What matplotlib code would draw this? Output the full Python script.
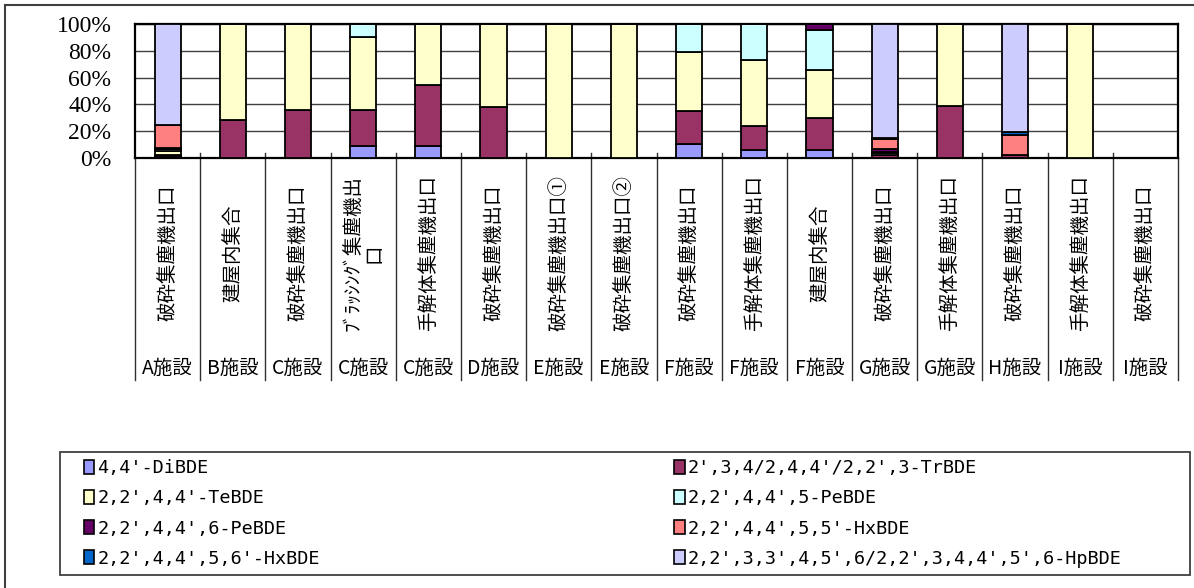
import numpy as np
import matplotlib
matplotlib.use("Agg")
import matplotlib.pyplot as plt
from matplotlib.patches import Rectangle, Patch
from matplotlib.lines import Line2D

W, H = 1194, 588

# --- data (percent composition) ---
sites = ["A施設", "B施設", "C施設", "C施設", "C施設", "D施設", "E施設", "E施設",
         "F施設", "F施設", "F施設", "G施設", "G施設", "H施設", "I施設", "I施設"]
points = ["破砕集塵機出口", "建屋内集合", "破砕集塵機出口", "ﾌﾞﾗｯｼﾝｸﾞ集塵機出\n口",
          "手解体集塵機出口", "破砕集塵機出口", "破砕集塵機出口①", "破砕集塵機出口②",
          "破砕集塵機出口", "手解体集塵機出口", "建屋内集合", "破砕集塵機出口",
          "手解体集塵機出口", "破砕集塵機出口", "手解体集塵機出口", "破砕集塵機出口"]

labels = ["4,4'-DiBDE", "2',3,4/2,4,4'/2,2',3-TrBDE", "2,2',4,4'-TeBDE",
          "2,2',4,4',5-PeBDE", "2,2',4,4',6-PeBDE", "2,2',4,4',5,5'-HxBDE",
          "2,2',4,4',5,6'-HxBDE", "2,2',3,3',4,5',6/2,2',3,4,4',5',6-HpBDE"]
colors = ["#9999FF", "#993366", "#FFFFCC", "#CCFFFF",
          "#660066", "#FF8080", "#0066CC", "#CCCCFF"]

di_bde = [0.5, 0, 0, 8.7, 8.7, 0, 0, 0, 10.7, 5.7, 6.2, 0, 0, 0, 0, 0]
tr_bde = [2, 28.6, 35.5, 27.3, 45.8, 37.8, 0, 0, 24.6, 17.9, 23.4, 2, 38.5, 2, 0, 0]
te_bde = [3, 71.4, 64.5, 54, 45.5, 62.2, 100, 100, 44, 49.8, 36.4, 2, 61.5, 0, 100, 0]
pe_bde99 = [1, 0, 0, 10, 0, 0, 0, 0, 20.7, 26.6, 29.7, 0.5, 0, 0, 0, 0]
pe_bde100 = [1, 0, 0, 0, 0, 0, 0, 0, 0, 0, 4.3, 2, 0, 0, 0, 0]
hx_bde153 = [17, 0, 0, 0, 0, 0, 0, 0, 0, 0, 0, 8, 0, 15.5, 0, 0]
hx_bde154 = [0.5, 0, 0, 0, 0, 0, 0, 0, 0, 0, 0, 0.5, 0, 2, 0, 0]
hp_bde = [75, 0, 0, 0, 0, 0, 0, 0, 0, 0, 0, 85, 0, 80.5, 0, 0]

series = [di_bde, tr_bde, te_bde, pe_bde99, pe_bde100, hx_bde153, hx_bde154, hp_bde]

# --- figure ---
fig = plt.figure(figsize=(W / 100, H / 100), dpi=100)
ax = fig.add_axes([135 / W, 1 - 158 / H, (1178 - 135) / W, 134 / H])

x = np.arange(len(sites))
bottom = np.zeros(len(sites))
handles = []
for vals, col, lab in zip(series, colors, labels):
    v = np.array(vals, dtype=float)
    ax.bar(x, v, 0.4, bottom=bottom, color=col, edgecolor="black",
           linewidth=1.3, zorder=3)
    bottom += v
    handles.append(Patch(facecolor=col, edgecolor="black", linewidth=1.2, label=lab))

ax.set_xlim(-0.5, len(sites) - 0.5)
ax.set_ylim(0, 100)
ax.set_yticks(np.arange(0, 101, 20))
ax.set_yticklabels([f"{t}%" for t in range(0, 101, 20)],
                   family="Liberation Serif", fontsize=17)
ax.tick_params(axis="y", length=0, pad=17)
ax.set_xticks([])
ax.grid(axis="y", color="#404040", linewidth=1, zorder=0)
for s in ax.spines.values():
    s.set_linewidth(1.6)
    s.set_color("black")

# category table below the axis
trans = ax.get_xaxis_transform()
y_top = 5 / 134
y_bot = -(380 - 158) / 134
for b in np.arange(-0.5, len(sites), 1.0):
    top = 0 if b in (-0.5, len(sites) - 0.5) else y_top
    ax.plot([b, b], [top, y_bot], transform=trans, color="#303030",
            linewidth=1, clip_on=False)

for i, (site, pt) in enumerate(zip(sites, points)):
    ax.text(i, -(253 - 158) / 134, pt, transform=trans, rotation=90,
            ha="center", va="center", multialignment="center",
            fontsize=14, family=["Noto Sans CJK JP", "DejaVu Sans"],
            linespacing=1.0)
    ax.text(i, -(368 - 158) / 134, site, transform=trans, ha="center",
            va="center", fontsize=14, family=["Noto Sans CJK JP", "DejaVu Sans"])

# chart frame
fig.add_artist(Line2D([5 / W, 1], [1 - 5 / H, 1 - 5 / H], color="#404040", linewidth=1.5))
fig.add_artist(Line2D([5 / W, 5 / W], [0, 1 - 5 / H], color="#404040", linewidth=1.5))

# legend box
fig.add_artist(Rectangle((60 / W, 1 - 575 / H), (1190 - 60) / W, (575 - 452) / H,
                         transform=fig.transFigure, fill=False,
                         edgecolor="#404040", linewidth=1.3))
order = [0, 2, 4, 6, 1, 3, 5, 7]
leg = fig.legend([handles[i] for i in order], [labels[i] for i in order],
                 ncol=2, loc="upper left", frameon=False,
                 bbox_to_anchor=(80 / W, 1 - 455.5 / H),
                 prop={"family": "DejaVu Sans Mono", "size": 13.3},
                 handlelength=0.58, handleheight=0.8, handletextpad=0.15,
                 labelspacing=0.66, columnspacing=19.2, borderaxespad=0,
                 borderpad=0.2)

fig.savefig("out.png", dpi=100)
